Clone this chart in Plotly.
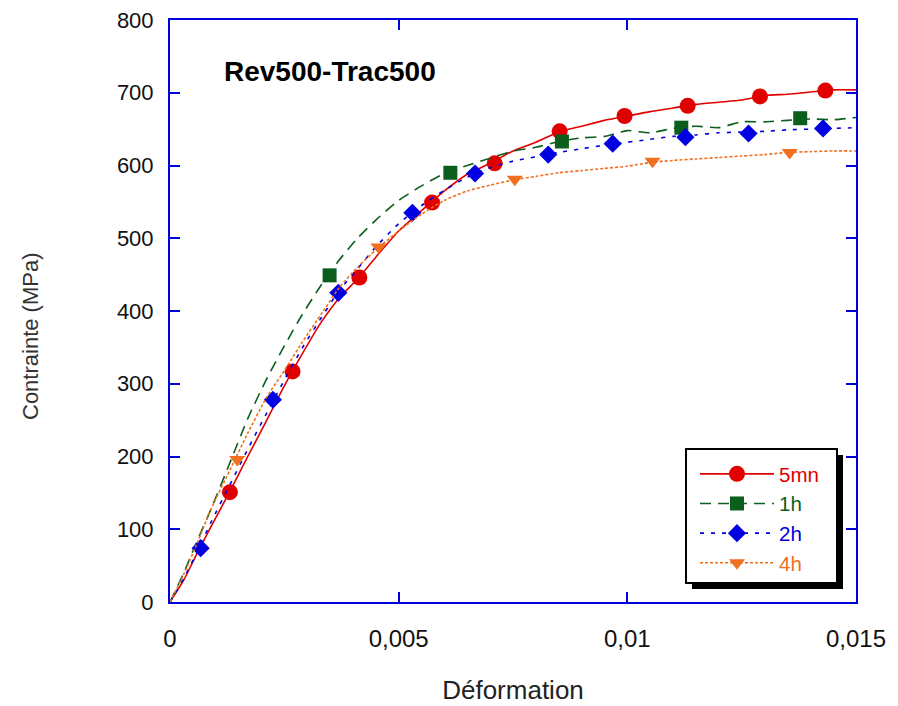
import plotly.graph_objects as go

# ---------------- data ----------------
strain_grid = [0, 0.0003, 0.0006, 0.0009, 0.0013, 0.0017, 0.0021, 0.0025, 0.0029, 0.0033,
               0.0037, 0.0041, 0.0045, 0.005, 0.0055, 0.006, 0.0065, 0.007, 0.0075, 0.008,
               0.0085, 0.009, 0.0095, 0.01, 0.0105, 0.011, 0.0115, 0.012, 0.0125, 0.013,
               0.0135, 0.014, 0.0145, 0.015]

stress_5mn = [0, 30, 68, 104, 151, 200, 248, 297, 342, 384,
              418, 444, 474, 510, 538, 565, 588, 603, 620, 632,
              646, 654, 662, 668, 674, 679, 684, 687, 690, 696,
              698, 701, 704, 704]
stress_1h = [0, 40, 85, 128, 190, 252, 305, 352, 396, 435,
             470, 500, 525, 552, 572, 589, 600, 610, 620, 625,
             633, 638, 640, 648, 645, 651, 654, 652, 660, 660,
             662, 664, 663, 666]
stress_2h = [0, 32, 70, 110, 160, 210, 258, 305, 350, 390,
             428, 458, 488, 520, 545, 566, 584, 597, 606, 612,
             618, 623, 628, 632, 636, 640, 642, 645, 646, 647,
             649, 650, 651, 652]
stress_4h = [0, 38, 82, 128, 180, 232, 280, 318, 358, 395,
             432, 460, 484, 510, 533, 552, 565, 573, 580, 585,
             590, 593, 596, 599, 604, 607, 609, 611, 613, 615,
             618, 619, 620, 620]

mark_5mn_x = [0.00131, 0.00268, 0.00414, 0.00573, 0.0071, 0.00852, 0.00994, 0.01132, 0.0129, 0.01433]
mark_5mn_y = [151, 317, 446, 549, 603, 647, 668, 682, 695, 703]
mark_1h_x = [0.00349, 0.00613, 0.00857, 0.01118, 0.01378]
mark_1h_y = [449, 590, 633, 652, 665]
mark_2h_x = [0.00067, 0.00225, 0.00368, 0.0053, 0.00667, 0.00827, 0.00968, 0.01127, 0.01265, 0.01428]
mark_2h_y = [74, 278, 425, 535, 589, 615, 630, 639, 644, 651]
mark_4h_x = [0.00147, 0.00456, 0.00754, 0.01055, 0.01355]
mark_4h_y = [196, 488, 581, 606, 618]

series_names = ["5mn", "1h", "2h", "4h"]
x_tickvals = [0, 0.005, 0.01, 0.015]
x_ticktext = ["0", "0,005", "0,01", "0,015"]
y_tickvals = [0, 100, 200, 300, 400, 500, 600, 700, 800]

# ---------------- styling ----------------
colors = ["#e00000", "#0b5e1c", "#0000e0", "#f07020"]
dashes = ["solid", "11px,7px", "4px,7px", "3px,2px"]
symbols = ["circle", "square", "diamond", "triangle-down"]
msizes = [16, 14, 14, 14]

lines_y = [stress_5mn, stress_1h, stress_2h, stress_4h]
marks = [(mark_5mn_x, mark_5mn_y), (mark_1h_x, mark_1h_y),
         (mark_2h_x, mark_2h_y), (mark_4h_x, mark_4h_y)]

fig = go.Figure()
for i in range(4):
    fig.add_trace(go.Scatter(x=strain_grid, y=lines_y[i], mode="lines",
                             line=dict(color=colors[i], width=1.6, dash=dashes[i], shape="spline", smoothing=0.6),
                             showlegend=False, hoverinfo="skip"))
    fig.add_trace(go.Scatter(x=marks[i][0], y=marks[i][1], mode="markers",
                             marker=dict(color=colors[i], symbol=symbols[i], size=msizes[i], line=dict(width=0)),
                             showlegend=False))
for i in range(4):
    fig.add_trace(go.Scatter(x=[None], y=[None], mode="lines+markers",
                             name=f"<span style='color:{colors[i]}'>{series_names[i]}</span>",
                             line=dict(color=colors[i], width=1.6, dash=dashes[i]),
                             marker=dict(color=colors[i], symbol=symbols[i], size=msizes[i])))

W, H = 898, 706
OFF = 8  # page body margin
# plot area in page pixels: x 170..856, y 20..602
L = 170 - OFF
T = 20 - OFF
R = W - (856 - OFF)
B = H - (602 - OFF)
pw, ph = W - L - R, H - T - B

def px_x(p):
    return (p - OFF - L) / pw

def px_y(p):
    return (H - B - (p - OFF)) / ph

axis_common = dict(showline=True, linecolor="#0000dd", linewidth=2, mirror="ticks",
                   ticks="inside", tickcolor="#0000dd", tickwidth=2, ticklen=10,
                   showgrid=False, zeroline=False, automargin=False,
                   ticklabeloverflow="allow")

fig.update_layout(
    width=W, height=H,
    margin=dict(l=L, r=R, t=T, b=B, autoexpand=False),
    paper_bgcolor="white", plot_bgcolor="white",
    xaxis=dict(range=[0, 0.015], tickvals=x_tickvals, ticktext=x_ticktext,
               ticklabelstandoff=14,
               tickfont=dict(family="Liberation Sans, Arial", size=24, color="#111"),
               title=dict(text="Déformation", font=dict(family="Liberation Sans, Arial", size=26, color="#222"), standoff=30),
               **axis_common),
    yaxis=dict(range=[0, 800], tickvals=y_tickvals, ticklabelstandoff=10,
               tickfont=dict(family="Liberation Sans, Arial", size=22, color="#111"),
               **axis_common),
    legend=dict(x=px_x(695), y=px_y(454), xanchor="left", yanchor="top",
                bgcolor="rgba(0,0,0,0)", borderwidth=0,
                font=dict(family="Liberation Sans, Arial", size=20.5),
                itemwidth=74, tracegroupgap=0),
    showlegend=True,
    shapes=[dict(type="rect", xref="paper", yref="paper",
                 x0=px_x(692), x1=px_x(843), y0=px_y(589), y1=px_y(455),
                 fillcolor="black", line=dict(width=0), layer="above"),
            dict(type="rect", xref="paper", yref="paper",
                 x0=px_x(686), x1=px_x(837), y0=px_y(583), y1=px_y(449),
                 fillcolor="white", line=dict(color="black", width=2), layer="above")],
    annotations=[dict(text="<b>Rev500-Trac500</b>", xref="paper", yref="paper",
                      x=px_x(330), y=px_y(71), xanchor="center", yanchor="middle", showarrow=False,
                      font=dict(family="Liberation Sans, Arial", size=28, color="black")),
                 dict(text="Contrainte (MPa)", xref="paper", yref="paper",
                      x=px_x(30), y=px_y(336), xanchor="center", yanchor="middle", showarrow=False,
                      textangle=-90,
                      font=dict(family="Liberation Sans, Arial", size=22, color="#333"))],
)

fig.write_html("out.html")
